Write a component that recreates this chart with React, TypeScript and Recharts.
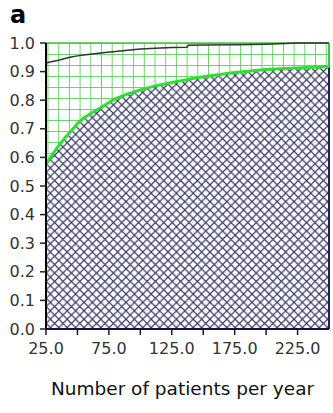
import { ComposedChart, Area, Line, XAxis, YAxis, ReferenceLine, Label } from "recharts";

// patients per year (x) and the two curves
const patients = [25, 30, 35, 40, 45, 50, 55, 60, 70, 80, 90, 100, 112, 125, 137, 138, 150, 175, 200, 215, 225, 250];
const lowerShare = [0.575, 0.61, 0.64, 0.668, 0.692, 0.718, 0.738, 0.752, 0.778, 0.805, 0.822, 0.836, 0.85, 0.862, 0.872, 0.873, 0.882, 0.897, 0.907, 0.911, 0.913, 0.918];
const upperShare = [0.93, 0.935, 0.94, 0.946, 0.951, 0.955, 0.958, 0.961, 0.966, 0.97, 0.975, 0.979, 0.982, 0.984, 0.985, 0.992, 0.993, 0.994, 0.996, 0.998, 1.0, 1.0];

const xTicks = [25, 50, 75, 100, 125, 150, 175, 200, 225];
const yTicks = [0, 0.1, 0.2, 0.3, 0.4, 0.5, 0.6, 0.7, 0.8, 0.9, 1.0];

const data = patients.map((p, i) => ({
  patients: p,
  lower: lowerShare[i],
  band: [lowerShare[i], 1],
  upper: upperShare[i],
}));

const font = "DejaVu Sans";

export default function App() {
  return (
    <div style={{ position: "absolute", left: 0, top: 0, width: 333, height: 413, background: "#fff" }}>
      <div
        style={{
          position: "absolute",
          left: 10,
          top: 1,
          fontFamily: font,
          fontWeight: "bold",
          fontSize: 24,
          lineHeight: "28px",
          color: "#000",
        }}
      >
        a
      </div>
      <ComposedChart width={333} height={413} data={data} margin={{ top: 43, right: 4, left: 0, bottom: 0 }}>
        <defs>
          <pattern id="hatch" patternUnits="userSpaceOnUse" width="8.4" height="8.4">
            <rect width="8.4" height="8.4" fill="#fff" />
            <path d="M0,0 L8.4,8.4 M8.4,0 L0,8.4" stroke="#3a3a68" strokeWidth="1.2" />
          </pattern>
          <pattern id="grid" patternUnits="userSpaceOnUse" x="47.5" y="43" width="10.7" height="11">
            <rect width="10.7" height="11" fill="#fff" />
            <path d="M0,0 H10.7 M0,0 V11" stroke="#3ec83e" strokeWidth="1.5" />
          </pattern>
        </defs>
        <XAxis
          dataKey="patients"
          type="number"
          domain={[25, 250]}
          ticks={xTicks}
          tickFormatter={(v: number) => ((v - 25) % 50 === 0 ? v.toFixed(1) : "")}
          height={84}
          tickSize={6}
          tickMargin={8}
          axisLine={{ stroke: "#15153a", strokeWidth: 2 }}
          tickLine={{ stroke: "#15153a", strokeWidth: 1.5 }}
          tick={{ fill: "#333", fontFamily: font, fontSize: 16 }}
        >
          <Label
            value="Number of patients per year"
            position="insideBottom"
            offset={18}
            dx={-5}
            style={{ fill: "#111", fontFamily: font, fontSize: 18.5 }}
          />
        </XAxis>
        <YAxis
          type="number"
          domain={[0, 1]}
          ticks={yTicks}
          tickFormatter={(v: number) => v.toFixed(1)}
          width={46}
          tickSize={6}
          tickMargin={5}
          axisLine={{ stroke: "#000", strokeWidth: 2 }}
          tickLine={{ stroke: "#222", strokeWidth: 1.5 }}
          tick={{ fill: "#333", fontFamily: font, fontSize: 16 }}
        />
        <Area
          dataKey="band"
          type="linear"
          fill="url(#grid)"
          fillOpacity={1}
          stroke="#3ec83e"
          strokeWidth={1.5}
          isAnimationActive={false}
        />
        <Area
          dataKey="lower"
          type="linear"
          fill="url(#hatch)"
          fillOpacity={1}
          stroke="none"
          isAnimationActive={false}
        />
        <ReferenceLine
          segment={[{ x: 250, y: 0 }, { x: 250, y: 0.918 }]}
          stroke="#22224e"
          strokeWidth={2}
        />
        <ReferenceLine
          segment={[{ x: 250, y: 0.918 }, { x: 250, y: 1 }]}
          stroke="#3ec83e"
          strokeWidth={2}
        />
        <Line
          dataKey="upper"
          type="linear"
          stroke="#333"
          strokeWidth={1.5}
          dot={false}
          isAnimationActive={false}
        />
        <Line
          dataKey="lower"
          type="linear"
          stroke="#2ee02e"
          strokeWidth={3}
          dot={false}
          isAnimationActive={false}
        />
      </ComposedChart>
    </div>
  );
}
